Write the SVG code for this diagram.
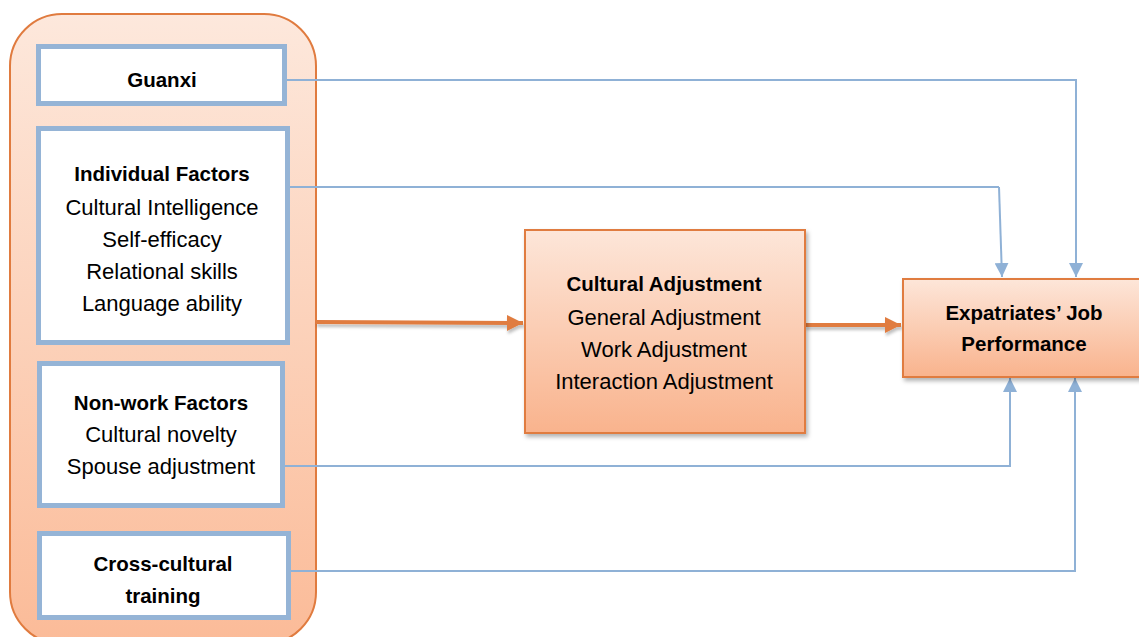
<svg xmlns="http://www.w3.org/2000/svg" width="1139" height="637" viewBox="0 0 1139 637">
<defs>
<linearGradient id="gOuter" x1="0" y1="0" x2="0" y2="1">
<stop offset="0" stop-color="#fde8dc"/><stop offset="1" stop-color="#fbbb98"/>
</linearGradient>
<linearGradient id="gBox" x1="0" y1="0" x2="0" y2="1">
<stop offset="0" stop-color="#fde6d9"/><stop offset="1" stop-color="#f9b38d"/>
</linearGradient>
<filter id="sh" x="-10%" y="-10%" width="130%" height="130%">
<feDropShadow dx="2" dy="3" stdDeviation="2" flood-color="#000" flood-opacity="0.3"/>
</filter>
<filter id="shl" filterUnits="userSpaceOnUse" x="300" y="300" width="620" height="50">
<feDropShadow dx="1" dy="3" stdDeviation="1.5" flood-color="#000" flood-opacity="0.25"/>
</filter>
<marker id="ab" viewBox="0 0 10 10" refX="10" refY="5" markerWidth="7" markerHeight="7" markerUnits="strokeWidth" orient="auto">
<path d="M0,0 L10,5 L0,10 z" fill="#8fb1d6"/>
</marker>
<marker id="ao" viewBox="0 0 10 10" refX="10" refY="5" markerWidth="4" markerHeight="4.5" markerUnits="strokeWidth" orient="auto">
<path d="M0,0 L10,5 L0,10 z" fill="#e07b3f"/>
</marker>
</defs>
<style>
.t{font-family:"Liberation Sans",Arial,sans-serif;font-size:22px;fill:#000;text-anchor:middle}
.b{font-weight:bold;font-size:20.5px}
.inner{fill:#fff;stroke:#95b4d6;stroke-width:5}
.ob{fill:url(#gBox);stroke:#e07b3f;stroke-width:2}
.bl{fill:none;stroke:#8fb1d6;stroke-width:2;marker-end:url(#ab)}
.bl0{fill:none;stroke:#8fb1d6;stroke-width:2}
.or{fill:none;stroke:#e07b3f;stroke-width:4;marker-end:url(#ao)}
</style>
<rect width="1139" height="637" fill="#fff"/>
<g id="group-left">
<rect x="10" y="14" width="306" height="630" rx="52" ry="52" fill="url(#gOuter)" stroke="#e07b3f" stroke-width="2"/>
</g>
<g id="connectors">
<path class="bl" d="M287,80 H1076 V277"/>
<path class="bl0" d="M290,187 H999"/>
<path class="bl" d="M999,187 L1002,277"/>
<path class="bl" d="M285,466 H1010 V378"/>
<path class="bl" d="M290,571 H1075 V378"/>
<g filter="url(#shl)">
<path class="or" d="M316,322 L523,323"/>
<path class="or" d="M805,325 L901,325"/>
</g>
</g>
<g id="guanxi">
<rect class="inner" x="38.5" y="46.5" width="246" height="57"/>
<text class="t b" x="162" y="87">Guanxi</text>
</g>
<g id="individual">
<rect class="inner" x="38.5" y="128.5" width="249" height="214"/>
<text class="t b" x="162" y="181">Individual Factors</text>
<text class="t" x="162" y="215">Cultural Intelligence</text>
<text class="t" x="162" y="247">Self-efficacy</text>
<text class="t" x="162" y="279">Relational skills</text>
<text class="t" x="162" y="311">Language ability</text>
</g>
<g id="nonwork">
<rect class="inner" x="39.5" y="363.5" width="243" height="142"/>
<text class="t b" x="161" y="410">Non-work Factors</text>
<text class="t" x="161" y="442">Cultural novelty</text>
<text class="t" x="161" y="474">Spouse adjustment</text>
</g>
<g id="crosscultural">
<rect class="inner" x="39.5" y="533.5" width="249" height="84"/>
<text class="t b" x="163" y="571">Cross-cultural</text>
<text class="t b" x="163" y="603">training</text>
</g>
<g id="cultural-adjustment">
<rect class="ob" x="525" y="230" width="280" height="203" filter="url(#sh)"/>
<text class="t b" x="664" y="291">Cultural Adjustment</text>
<text class="t" x="664" y="325">General Adjustment</text>
<text class="t" x="664" y="357">Work Adjustment</text>
<text class="t" x="664" y="389">Interaction Adjustment</text>
</g>
<g id="performance">
<rect class="ob" x="903" y="279" width="244" height="98" filter="url(#sh)"/>
<text class="t b" x="1024" y="320">Expatriates’ Job</text>
<text class="t b" x="1024" y="351">Performance</text>
</g>
</svg>
